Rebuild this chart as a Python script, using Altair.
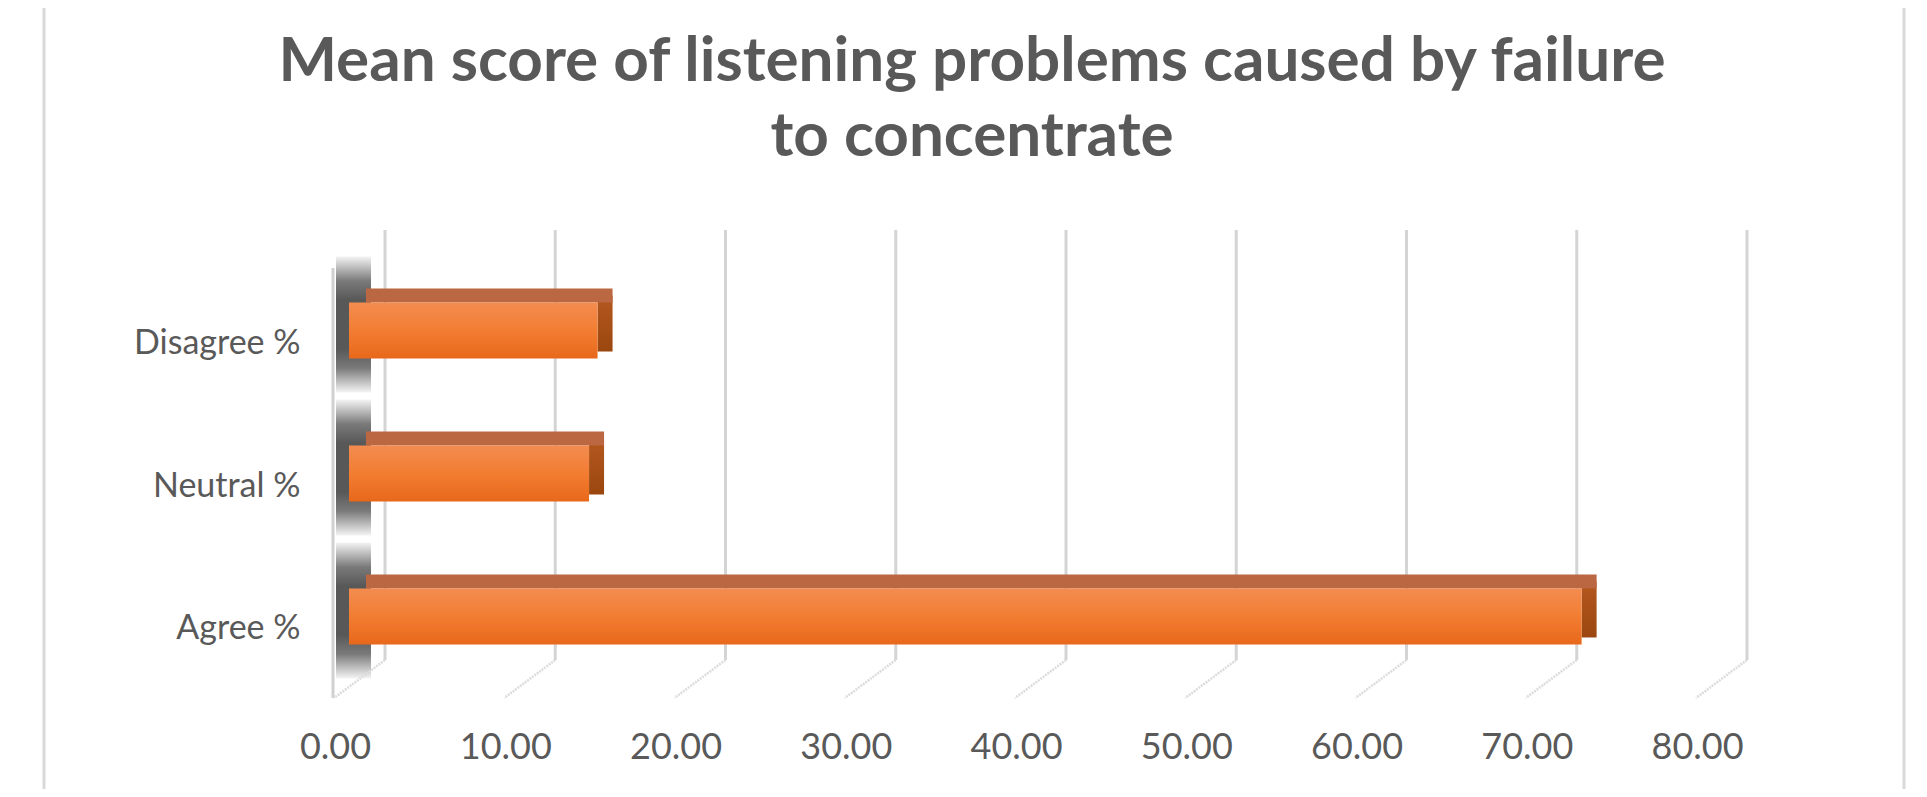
import altair as alt
import pandas as pd

categories = ["Agree %", "Neutral %", "Disagree %"]
values = [72.4, 14.1, 14.6]
order = ["Disagree %", "Neutral %", "Agree %"]
grid_values = [0, 10, 20, 30, 40, 50, 60, 70, 80]
title_lines = ["Mean score of listening problems caused by failure", "to concentrate"]

bars = pd.DataFrame({"cat": categories, "value": values})
grid = pd.DataFrame({"g": grid_values})

W, H = 1362, 487
FONT = "Lato"
GREY = "#595959"

xscale = alt.Scale(domain=[0, 80], nice=False, zero=True)
yscale = alt.Scale(domain=order, paddingInner=0, paddingOuter=0.203)

xaxis = alt.Axis(values=grid_values, format=".2f", grid=False, domain=False, ticks=False,
                 labelFont=FONT, labelFontSize=36, labelColor=GREY, labelPadding=13,
                 labelOffset=-14, labelFlush=False, labelOverlap=False, title=None)
yaxis = alt.Axis(grid=False, domain=False, ticks=False, labelFont=FONT, labelFontSize=34,
                 labelColor=GREY, labelPadding=49, labelOffset=13, title=None)

base = alt.Chart(bars)

# shadow on the side wall
shadow = base.mark_bar(
    size=136, yOffset=-6,
    color=alt.Gradient(gradient="linear", x1=0, x2=0, y1=0, y2=1, stops=[
        alt.GradientStop(offset=0, color="#f4f4f4"),
        alt.GradientStop(offset=0.18, color="#7a7a7a"),
        alt.GradientStop(offset=0.32, color="#585858"),
        alt.GradientStop(offset=0.68, color="#585858"),
        alt.GradientStop(offset=0.82, color="#7a7a7a"),
        alt.GradientStop(offset=1, color="#f4f4f4"),
    ]),
).encode(
    y=alt.Y("cat:N", sort=order, scale=yscale, axis=yaxis),
    x=alt.value(-13), x2=alt.value(22),
)

gridlines = alt.Chart(grid).mark_rule(color="#d4d4d4", strokeWidth=3, xOffset=36).encode(
    x=alt.X("g:Q", scale=xscale, axis=xaxis),
    y=alt.value(0), y2=alt.value(430),
)

floor = alt.Chart(grid).mark_rule(color="#dcdcdc", strokeWidth=2.5, strokeDash=[2, 1],
                                   xOffset=36, x2Offset=-15).encode(
    x=alt.X("g:Q", scale=xscale),
    x2=alt.X2("g:Q"),
    y=alt.value(430), y2=alt.value(468),
)

wall_front = alt.Chart(grid).transform_filter(alt.datum.g == 0).mark_rule(
    color="#d0d0d0", strokeWidth=3, xOffset=-16).encode(
    x=alt.X("g:Q", scale=xscale),
    y=alt.value(38), y2=alt.value(468),
)

border_left = alt.Chart(grid).transform_filter(alt.datum.g == 0).mark_rule(
    color="#d9d9d9", strokeWidth=3, xOffset=-305).encode(
    x=alt.X("g:Q", scale=xscale), y=alt.value(-230), y2=alt.value(567))
border_right = alt.Chart(grid).transform_filter(alt.datum.g == 80).mark_rule(
    color="#d9d9d9", strokeWidth=3, xOffset=193).encode(
    x=alt.X("g:Q", scale=xscale), y=alt.value(-230), y2=alt.value(567))

side = base.mark_bar(
    size=56, yOffset=-7, xOffset=15, x2Offset=0,
    color=alt.Gradient(gradient="linear", x1=0, x2=0, y1=0, y2=1, stops=[
        alt.GradientStop(offset=0, color="#b5581f"),
        alt.GradientStop(offset=1, color="#9a470f"),
    ]),
).encode(
    y=alt.Y("cat:N", sort=order, scale=yscale),
    x=alt.X("value:Q", scale=xscale),
    x2=alt.X2("value:Q"),
)

top = base.mark_bar(size=14, yOffset=-35, xOffset=15, x2Offset=17, color="#bb6741").encode(
    y=alt.Y("cat:N", sort=order, scale=yscale),
    x=alt.X("value:Q", scale=xscale),
    x2=alt.datum(0),
)

front = base.mark_bar(
    size=56,
    color=alt.Gradient(gradient="linear", x1=0, x2=0, y1=0, y2=1, stops=[
        alt.GradientStop(offset=0, color="#f38c50"),
        alt.GradientStop(offset=0.5, color="#f27d32"),
        alt.GradientStop(offset=1, color="#e8681a"),
    ]),
).encode(
    y=alt.Y("cat:N", sort=order, scale=yscale),
    x=alt.X("value:Q", scale=xscale),
    x2=alt.datum(0),
)

chart = alt.layer(
    shadow, gridlines, floor, wall_front, border_left, border_right, side, top, front
).properties(
    width=W, height=H,
    background="white",
    title=alt.TitleParams(title_lines, font=FONT, fontSize=62, fontWeight="bold",
                          color=GREY, anchor="middle", lineHeight=75, offset=0,
                          dy=170, dx=-58),
    autosize=alt.AutoSizeParams(type="none"),
    padding={"left": 341, "top": 222, "right": 208, "bottom": 72},
).configure_view(stroke=None)

chart.save("out.html", embed_options={"renderer": "svg", "actions": False})
